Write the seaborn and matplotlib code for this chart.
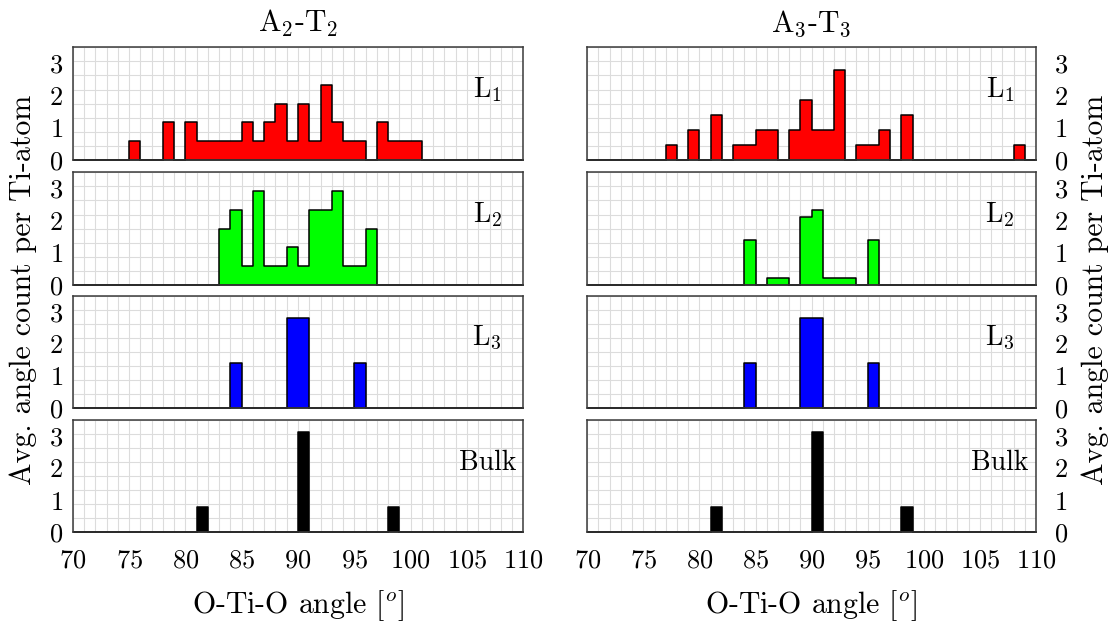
import numpy as np
import pandas as pd
import matplotlib
matplotlib.use("Agg")
import matplotlib.pyplot as plt
import seaborn as sns

# ---------------- data (bin left edge in degrees, avg. count per Ti atom) -------------
a2_L1_x = [75, 78, 80, 81, 82, 83, 84, 85, 86, 87, 88, 89, 90, 91, 92, 93, 94, 95, 97, 98, 99, 100]
a2_L1_y = [0.58, 1.17, 1.17, 0.58, 0.58, 0.58, 0.58, 1.17, 0.58, 1.17, 1.75, 0.58, 1.75, 0.58,
           2.33, 1.17, 0.58, 0.58, 1.17, 0.58, 0.58, 0.58]
a2_L2_x = [83, 84, 85, 86, 87, 88, 89, 90, 91, 92, 93, 94, 95, 96]
a2_L2_y = [1.75, 2.33, 0.58, 2.92, 0.58, 0.58, 1.17, 0.58, 2.33, 2.33, 2.92, 0.58, 0.58, 1.75]
a2_L3_x = [84, 89, 90, 95]
a2_L3_y = [1.4, 2.8, 2.8, 1.4]
a2_bulk_x = [81, 90, 98]
a2_bulk_y = [0.78, 3.11, 0.78]

a3_L1_x = [77, 79, 81, 83, 84, 85, 86, 88, 89, 90, 91, 92, 94, 95, 96, 98, 108]
a3_L1_y = [0.47, 0.93, 1.4, 0.47, 0.47, 0.93, 0.93, 0.93, 1.87, 0.93, 0.93, 2.8,
           0.47, 0.47, 0.93, 1.4, 0.47]
a3_L2_x = [84, 86, 87, 89, 90, 91, 92, 93, 95]
a3_L2_y = [1.4, 0.23, 0.23, 2.1, 2.33, 0.23, 0.23, 0.23, 1.4]
a3_L3_x = [84, 89, 90, 95]
a3_L3_y = [1.4, 2.8, 2.8, 1.4]
a3_bulk_x = [81, 90, 98]
a3_bulk_y = [0.78, 3.11, 0.78]

layer_labels = [r"L$_1$", r"L$_2$", r"L$_3$", "Bulk"]
layer_colors = ["#ff0000", "#00ff00", "#0000ff", "#000000"]
column_titles = [r"A$_2$-T$_2$", r"A$_3$-T$_3$"]
x_ticks = [70, 75, 80, 85, 90, 95, 100, 105, 110]
y_ticks = [0, 1, 2, 3]

columns = [
    [(a2_L1_x, a2_L1_y), (a2_L2_x, a2_L2_y), (a2_L3_x, a2_L3_y), (a2_bulk_x, a2_bulk_y)],
    [(a3_L1_x, a3_L1_y), (a3_L2_x, a3_L2_y), (a3_L3_x, a3_L3_y), (a3_bulk_x, a3_bulk_y)],
]

# ---------------- style -------------
sns.set_style("white")
plt.rcParams["font.family"] = ["cmr10", "DejaVu Serif"]
plt.rcParams["mathtext.fontset"] = "cm"
plt.rcParams["axes.formatter.use_mathtext"] = True
plt.rcParams["text.color"] = "black"
plt.rcParams["xtick.color"] = "black"
plt.rcParams["ytick.color"] = "black"
FS_TICK = 19
FS_PANEL = 20
FS_LABEL = 21.5

fig = plt.figure(figsize=(11.12, 6.22), dpi=100)

col_left = [0.0654, 0.5281]
col_width = [0.4052, 0.4035]
row_bottom = [0.7428, 0.5418, 0.3436, 0.1439]
row_height = 0.1812
bins = list(range(70, 111))

for c in range(2):
    for r in range(4):
        ax = fig.add_axes([col_left[c], row_bottom[r], col_width[c], row_height])
        xs, ys = columns[c][r]
        df = pd.DataFrame({"angle": [v + 0.5 for v in xs], "count": ys})
        sns.histplot(data=df, x="angle", weights="count", bins=bins, element="step",
                     fill=True, color=layer_colors[r], edgecolor="black", linewidth=1.1,
                     alpha=1.0, ax=ax, zorder=2)
        ax.set_xlim(70, 110)
        ax.set_ylim(0, 3.5)
        ax.set_xticks(x_ticks)
        ax.set_xticks(np.arange(70, 111, 1), minor=True)
        ax.set_yticks(y_ticks)
        ax.set_yticks(np.linspace(0, 3.5, 9), minor=True)
        ax.set_axisbelow(True)
        ax.grid(False)
        ax.grid(which="minor", color="#dcdcdc", linewidth=0.8)
        ax.grid(which="major", axis="x", color="#dcdcdc", linewidth=0.8)
        ax.tick_params(which="both", length=0, labelsize=FS_TICK)
        ax.set_ylabel("")
        ax.set_xlabel("")
        for s in ax.spines.values():
            s.set_color("#3a3a3a")
            s.set_linewidth(1.1)
            s.set_zorder(3)
        if r < 3:
            ax.set_xticklabels([])
        else:
            ax.tick_params(axis="x", pad=12)
        if c == 1:
            ax.yaxis.tick_right()
            ax.tick_params(axis="y", pad=13)
        else:
            ax.tick_params(axis="y", pad=7)
        ax.text(0.92, 0.62, layer_labels[r], transform=ax.transAxes, ha="center",
                va="center", fontsize=FS_PANEL)

    xc = col_left[c] + col_width[c] / 2
    fig.text(xc, 0.962, column_titles[c], ha="center", va="center", fontsize=FS_LABEL)
    fig.text(xc, 0.027, r"O-Ti-O angle [$^o$]", ha="center", va="center", fontsize=FS_LABEL)

fig.text(0.021, 0.534, "Avg. angle count per Ti-atom", rotation=90, ha="center",
         va="center", fontsize=FS_LABEL)
fig.text(0.985, 0.534, "Avg. angle count per Ti-atom", rotation=90, ha="center",
         va="center", fontsize=FS_LABEL)

fig.savefig("out.png", dpi=100)
